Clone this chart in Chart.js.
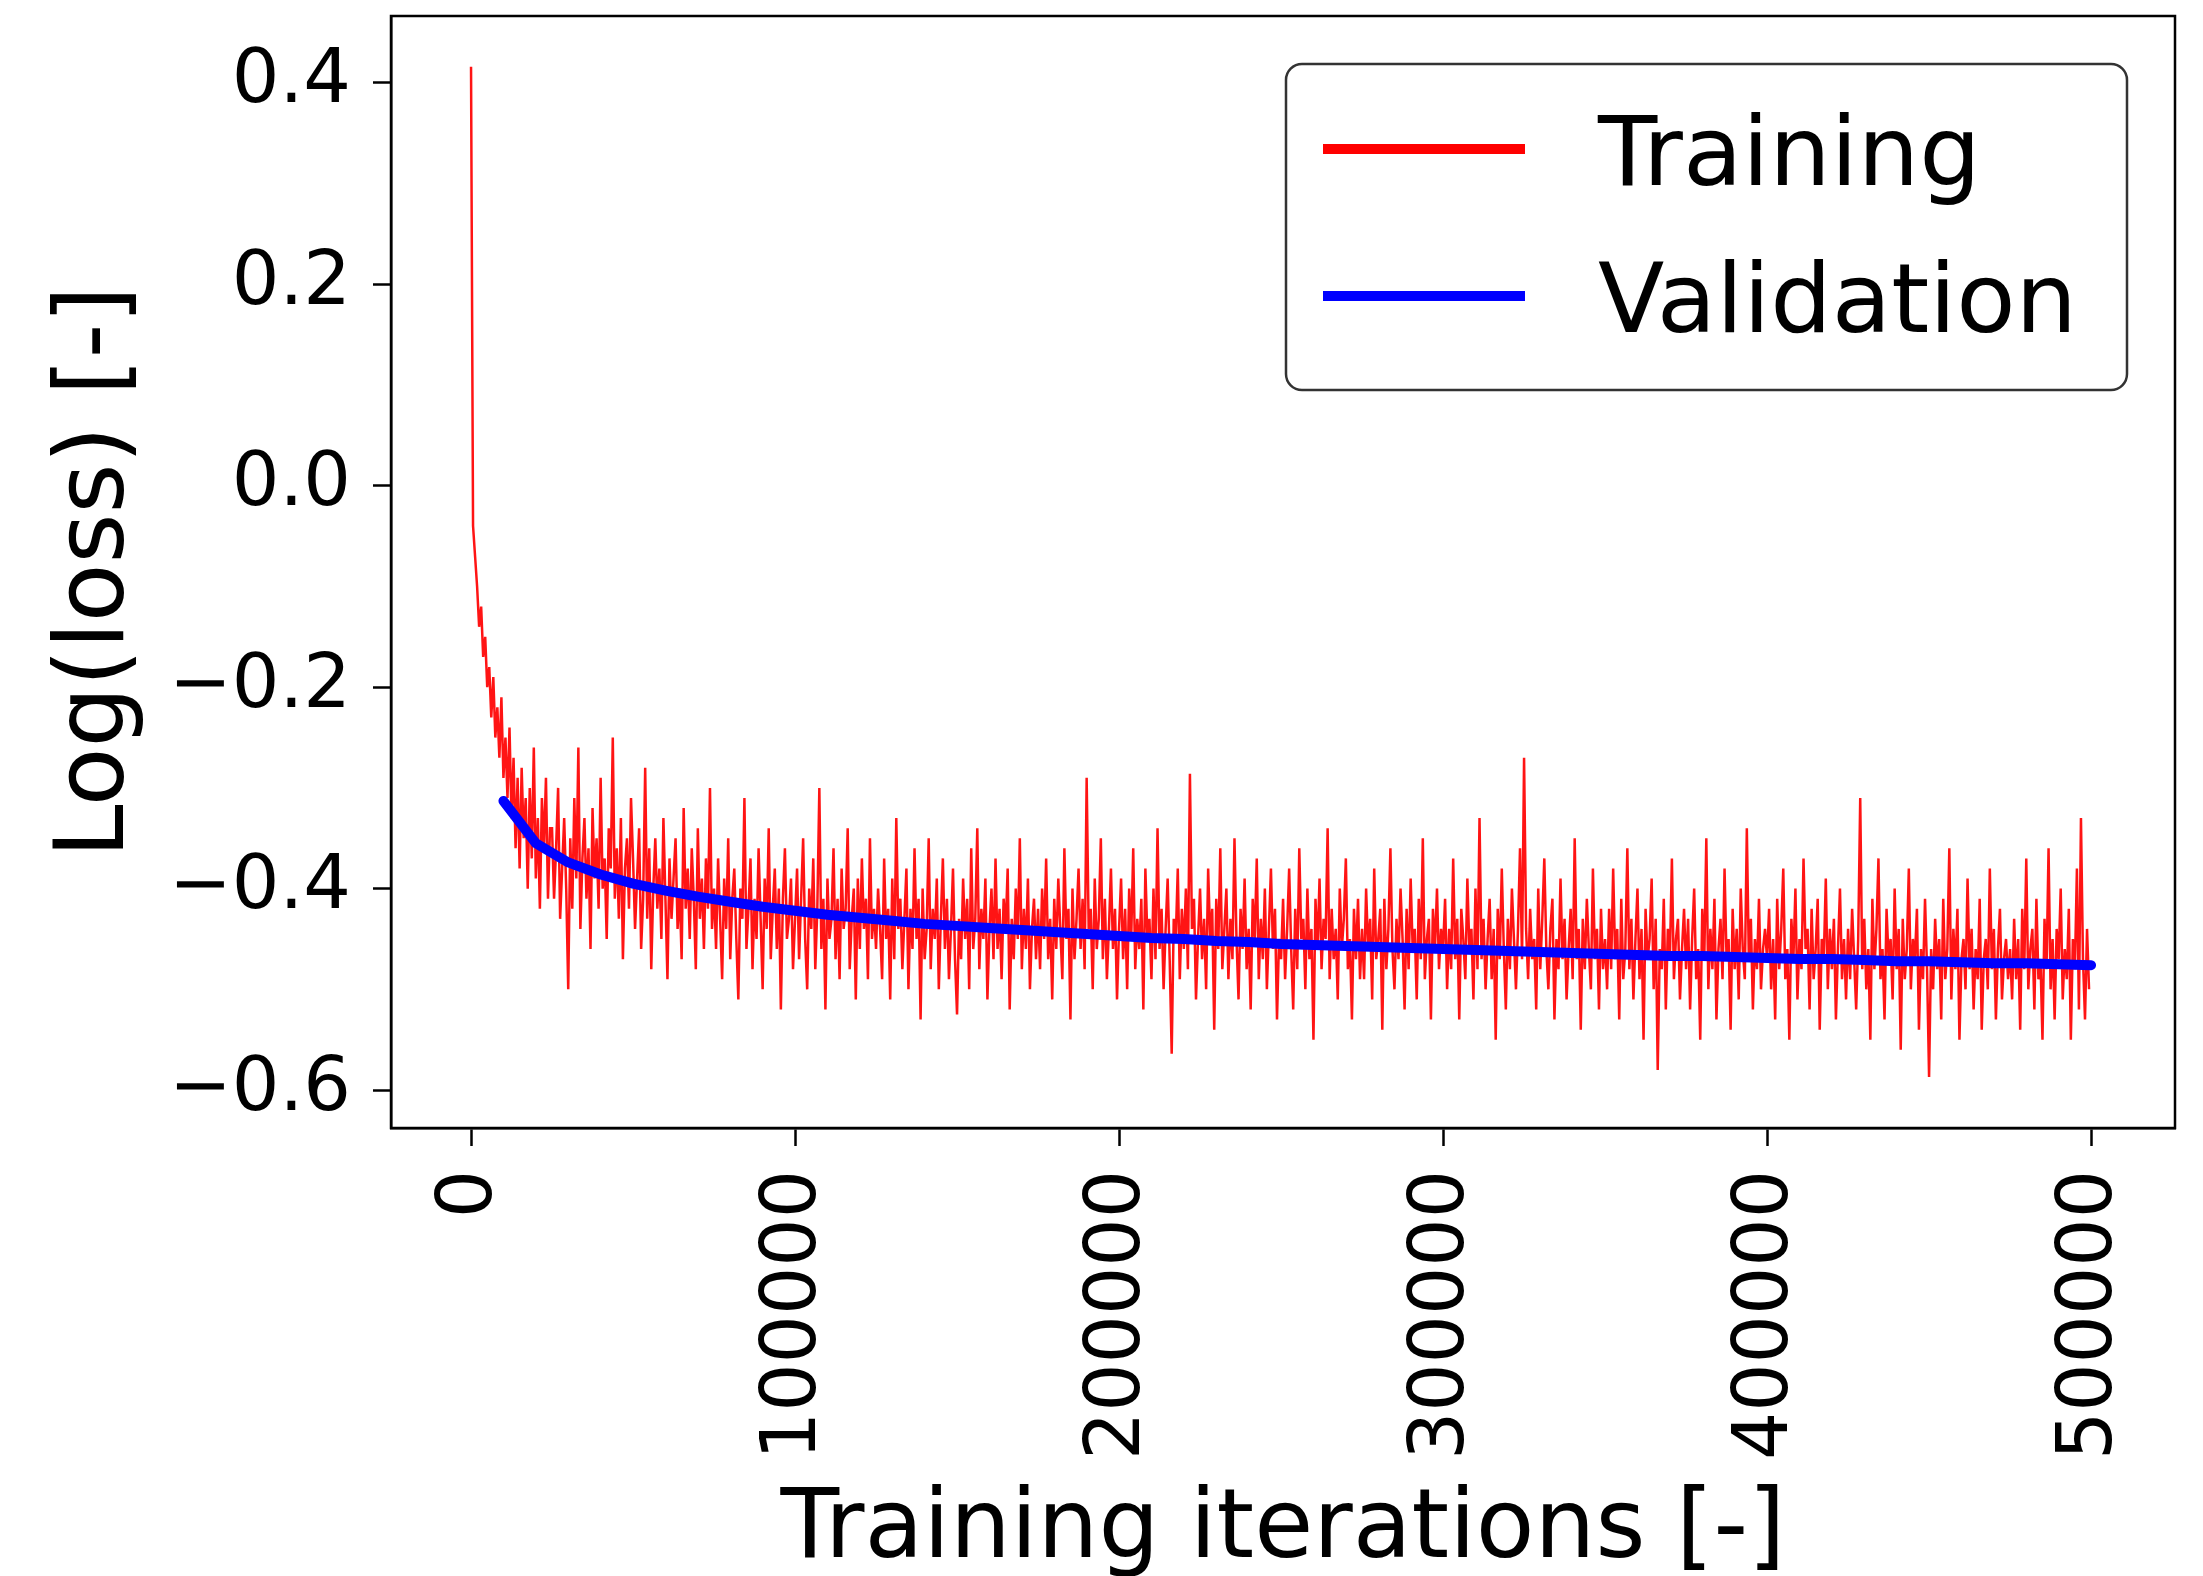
<!DOCTYPE html>
<html>
<head>
<meta charset="utf-8">
<title>Training loss</title>
<script src="https://cdn.jsdelivr.net/npm/chart.js@4.4.1/dist/chart.umd.min.js"></script>
<style>
    html, body { margin: 0; padding: 0; background: #fff; }
    #wrap { width: 2203px; height: 1576px; }
</style>
</head>
<body>
<div id="wrap"><canvas id="lossChart" width="2203" height="1576"></canvas></div>
<script>
// Training loss is logged every 625 iterations, one row per 25000 iterations
const trainStep = 625;
const trainLoss = [
    0.416,-.04,-.07,-.10,-.14,-.12,-.17,-.15,-.20,-.18,-.23,-.19,-.25,-.22,-.27,-.21,-.29,-.25,-.31,-.24,
    -.33,-.27,-.36,-.29,-.38,-.28,-.35,-.31,-.40,-.30,-.37,-.26,-.39,-.33,-.42,-.31,-.36,-.29,-.41,-.34,
    -.34,-.41,-.36,-.30,-.43,-.38,-.33,-.40,-.50,-.35,-.42,-.31,-.39,-.26,-.44,-.37,-.33,-.41,-.36,-.46,
    -.32,-.39,-.35,-.42,-.29,-.40,-.37,-.45,-.34,-.38,-.25,-.41,-.36,-.43,-.33,-.47,-.38,-.35,-.42,-.31,
    -.37,-.44,-.39,-.34,-.46,-.41,-.28,-.43,-.36,-.48,-.40,-.35,-.42,-.38,-.45,-.33,-.41,-.49,-.37,-.43,
    -.39,-.35,-.44,-.40,-.47,-.32,-.42,-.38,-.45,-.36,-.41,-.48,-.34,-.43,-.39,-.46,-.37,-.42,-.30,-.44,
    -.40,-.46,-.37,-.43,-.49,-.39,-.44,-.35,-.47,-.41,-.38,-.45,-.51,-.40,-.43,-.31,-.46,-.42,-.37,-.48,
    -.41,-.45,-.36,-.43,-.50,-.39,-.44,-.34,-.47,-.42,-.38,-.46,-.40,-.52,-.41,-.36,-.45,-.43,-.39,-.48,
    -.43,-.38,-.47,-.41,-.35,-.45,-.50,-.40,-.44,-.37,-.48,-.42,-.30,-.46,-.41,-.52,-.39,-.45,-.43,-.36,
    -.47,-.41,-.49,-.38,-.44,-.42,-.34,-.48,-.43,-.40,-.51,-.39,-.46,-.37,-.44,-.41,-.49,-.35,-.45,-.42,
    -.46,-.40,-.44,-.49,-.37,-.45,-.42,-.51,-.39,-.47,-.33,-.44,-.41,-.48,-.43,-.38,-.50,-.42,-.46,-.36,
    -.45,-.41,-.53,-.40,-.47,-.44,-.35,-.48,-.42,-.45,-.39,-.50,-.43,-.37,-.46,-.41,-.49,-.44,-.38,-.47,
    -.525,-.43,-.47,-.39,-.45,-.41,-.50,-.36,-.46,-.43,-.34,-.48,-.42,-.45,-.39,-.51,-.44,-.40,-.47,-.37,
    -.46,-.42,-.49,-.41,-.44,-.38,-.52,-.43,-.47,-.40,-.45,-.35,-.48,-.42,-.46,-.39,-.50,-.44,-.41,-.47,
    -.42,-.48,-.40,-.45,-.37,-.47,-.43,-.51,-.41,-.46,-.39,-.44,-.49,-.36,-.45,-.42,-.53,-.40,-.47,-.43,
    -.38,-.46,-.41,-.48,-.29,-.44,-.42,-.50,-.39,-.46,-.43,-.35,-.47,-.41,-.49,-.44,-.38,-.46,-.42,-.51,
    -.44,-.39,-.47,-.42,-.50,-.40,-.45,-.36,-.48,-.43,-.46,-.41,-.52,-.38,-.45,-.43,-.49,-.40,-.47,-.34,
    -.46,-.42,-.50,-.44,-.39,-.47,-.564,-.43,-.45,-.38,-.49,-.42,-.46,-.40,-.48,-.286,-.44,-.41,-.51,-.45,
    -.40,-.47,-.43,-.50,-.38,-.45,-.42,-.54,-.41,-.46,-.36,-.48,-.44,-.40,-.49,-.43,-.47,-.35,-.45,-.51,
    -.42,-.46,-.39,-.48,-.44,-.52,-.41,-.45,-.37,-.49,-.43,-.47,-.40,-.50,-.44,-.38,-.46,-.42,-.53,-.45,
    -.47,-.41,-.49,-.44,-.38,-.46,-.52,-.42,-.48,-.36,-.45,-.43,-.50,-.40,-.47,-.44,-.55,-.41,-.46,-.39,
    -.48,-.43,-.45,-.34,-.49,-.42,-.47,-.44,-.51,-.40,-.46,-.43,-.37,-.48,-.45,-.53,-.42,-.47,-.41,-.49,
    -.44,-.49,-.40,-.46,-.43,-.51,-.38,-.47,-.45,-.42,-.54,-.41,-.48,-.44,-.36,-.46,-.50,-.43,-.47,-.40,
    -.45,-.52,-.42,-.48,-.39,-.46,-.44,-.51,-.41,-.47,-.35,-.49,-.45,-.43,-.53,-.42,-.46,-.40,-.48,-.44,
    -.46,-.41,-.50,-.44,-.48,-.37,-.47,-.43,-.53,-.42,-.45,-.49,-.39,-.46,-.44,-.51,-.40,-.48,-.33,-.47,
    -.43,-.50,-.45,-.41,-.49,-.44,-.55,-.42,-.47,-.38,-.46,-.52,-.43,-.48,-.40,-.45,-.50,-.44,-.36,-.47,
    -.27,-.44,-.49,-.42,-.47,-.45,-.52,-.40,-.48,-.43,-.37,-.46,-.50,-.44,-.41,-.53,-.45,-.48,-.39,-.47,
    -.43,-.51,-.46,-.42,-.49,-.35,-.47,-.44,-.54,-.43,-.48,-.41,-.46,-.50,-.38,-.47,-.44,-.52,-.42,-.48,
    -.45,-.50,-.42,-.48,-.38,-.47,-.44,-.53,-.41,-.49,-.46,-.36,-.48,-.43,-.51,-.45,-.40,-.49,-.44,-.55,
    -.42,-.47,-.45,-.39,-.50,-.43,-.58,-.46,-.48,-.41,-.52,-.44,-.47,-.37,-.49,-.45,-.43,-.51,-.46,-.42,
    -.48,-.43,-.52,-.45,-.40,-.49,-.46,-.55,-.42,-.47,-.35,-.50,-.44,-.48,-.41,-.53,-.46,-.43,-.49,-.38,
    -.47,-.45,-.54,-.42,-.48,-.44,-.51,-.40,-.46,-.49,-.34,-.47,-.43,-.52,-.45,-.48,-.41,-.50,-.46,-.44,
    -.47,-.42,-.50,-.45,-.53,-.41,-.48,-.44,-.38,-.49,-.46,-.55,-.43,-.47,-.40,-.51,-.45,-.48,-.37,-.46,
    -.44,-.52,-.42,-.49,-.46,-.41,-.54,-.45,-.47,-.39,-.50,-.44,-.48,-.43,-.53,-.46,-.40,-.49,-.45,-.51,
    -.44,-.49,-.42,-.47,-.52,-.45,-.31,-.48,-.43,-.50,-.46,-.55,-.41,-.48,-.44,-.37,-.49,-.46,-.53,-.42,
    -.47,-.45,-.51,-.40,-.48,-.44,-.56,-.43,-.49,-.46,-.38,-.50,-.45,-.47,-.42,-.54,-.46,-.49,-.41,-.48,
    -.587,-.46,-.50,-.43,-.48,-.45,-.53,-.41,-.49,-.46,-.36,-.51,-.44,-.48,-.42,-.55,-.47,-.45,-.50,-.39,
    -.48,-.44,-.52,-.46,-.49,-.41,-.54,-.47,-.45,-.50,-.38,-.48,-.44,-.53,-.46,-.42,-.51,-.47,-.45,-.49,
    -.46,-.51,-.43,-.49,-.45,-.54,-.42,-.48,-.37,-.50,-.46,-.44,-.52,-.41,-.49,-.47,-.55,-.43,-.48,-.36,
    -.50,-.45,-.53,-.44,-.47,-.40,-.51,-.46,-.49,-.42,-.55,-.45,-.48,-.38,-.52,-.33,-.47,-.53,-.44,-.50
];

// Validation runs every 10000 iterations
const valIters = [
    10000, 20000, 30000, 40000, 50000, 60000, 70000, 80000, 90000, 100000,
    110000, 120000, 130000, 140000, 150000, 160000, 170000, 180000, 190000, 200000,
    210000, 220000, 230000, 240000, 250000, 260000, 270000, 280000, 290000, 300000,
    310000, 320000, 330000, 340000, 350000, 360000, 370000, 380000, 390000, 400000,
    410000, 420000, 430000, 440000, 450000, 460000, 470000, 480000, 490000, 500000
];
const valLoss = [
    -0.313, -0.355, -0.374, -0.386, -0.395, -0.402, -0.408, -0.413, -0.418, -0.422,
    -0.426, -0.429, -0.432, -0.435, -0.437, -0.439, -0.441, -0.443, -0.445, -0.447,
    -0.449, -0.450, -0.452, -0.453, -0.455, -0.456, -0.457, -0.458, -0.459, -0.460,
    -0.461, -0.462, -0.463, -0.464, -0.465, -0.466, -0.467, -0.467, -0.468, -0.469,
    -0.470, -0.470, -0.471, -0.472, -0.472, -0.473, -0.474, -0.474, -0.475, -0.476
];

const xTickValues = [0, 100000, 200000, 300000, 400000, 500000];
const xTickLabels = ['0', '100000', '200000', '300000', '400000', '500000'];
const yTickValues = [-0.6, -0.4, -0.2, 0.0, 0.2, 0.4];
const yTickLabels = ['\u22120.6', '\u22120.4', '\u22120.2', '0.0', '0.2', '0.4'];

const seriesNames = ['Training', 'Validation'];
const seriesColors = ['#ff0000', '#0000ff'];

const FONT = "'DejaVu Sans', 'Liberation Sans', sans-serif";

// axes frame, axis titles and the boxed legend
const decorPlugin = {
    id: 'decor',
    afterDraw(chart) {
        const ctx = chart.ctx;
        const a = chart.chartArea;
        ctx.save();

        ctx.strokeStyle = '#000';
        ctx.lineWidth = 2.5;
        ctx.strokeRect(a.left, a.top, a.right - a.left, a.bottom - a.top);

        ctx.fillStyle = '#000';
        ctx.font = '96px ' + FONT;
        ctx.textAlign = 'center';
        ctx.textBaseline = 'alphabetic';
        ctx.fillText('Training iterations [-]', (a.left + a.right) / 2, 1557);

        ctx.save();
        ctx.translate(123, (a.top + a.bottom) / 2);
        ctx.rotate(-Math.PI / 2);
        ctx.fillText('Log(loss) [-]', 0, 0);
        ctx.restore();

        // legend
        const box = { left: 1286, top: 64, right: 2127, bottom: 390, r: 16 };
        ctx.beginPath();
        ctx.roundRect(box.left, box.top, box.right - box.left, box.bottom - box.top, box.r);
        ctx.fillStyle = 'rgba(255,255,255,0.9)';
        ctx.fill();
        ctx.strokeStyle = '#333';
        ctx.lineWidth = 2.5;
        ctx.stroke();

        const rows = [149, 296];
        chart.data.datasets.forEach((ds, i) => {
            const y = rows[i];
            ctx.strokeStyle = seriesColors[i];
            ctx.lineWidth = 10;
            ctx.lineCap = 'butt';
            ctx.beginPath();
            ctx.moveTo(1323, y);
            ctx.lineTo(1525, y);
            ctx.stroke();
            ctx.fillStyle = '#000';
            ctx.font = '97px ' + FONT;
            ctx.textAlign = 'left';
            ctx.fillText(ds.label, 1598, y + 36);
        });
        ctx.restore();
    }
};

const trainPoints = trainLoss.map((v, i) => ({ x: i * trainStep, y: v }));
const valPoints = valIters.map((it, i) => ({ x: it, y: valLoss[i] }));

function noEdgePadding(scale) {
    scale.paddingTop = 0;
    scale.paddingBottom = 0;
    scale.paddingLeft = 0;
    scale.paddingRight = 0;
}

new Chart(document.getElementById('lossChart'), {
    type: 'line',
    data: {
        datasets: [
            {
                label: seriesNames[0],
                data: trainPoints,
                borderColor: 'rgba(255,0,0,0.92)',
                borderWidth: 2.5,
                pointRadius: 0,
                tension: 0,
                order: 2
            },
            {
                label: seriesNames[1],
                data: valPoints,
                borderColor: seriesColors[1],
                borderWidth: 10,
                pointRadius: 0,
                tension: 0,
                borderJoinStyle: 'round',
                borderCapStyle: 'round',
                order: 1
            }
        ]
    },
    options: {
        responsive: false,
        animation: false,
        devicePixelRatio: 1,
        layout: { padding: { left: 0, top: 16, right: 28, bottom: 0 } },
        plugins: {
            legend: { display: false },
            tooltip: { enabled: false }
        },
        scales: {
            x: {
                type: 'linear',
                min: -24700,
                max: 525900,
                afterBuildTicks: function(scale) {
                    scale.ticks = xTickValues.map(v => ({ value: v }));
                },
                afterFit: function(scale) {
                    scale.height = 448;
                    noEdgePadding(scale);
                },
                ticks: {
                    minRotation: 90,
                    maxRotation: 90,
                    padding: 24,
                    color: '#000',
                    font: { family: FONT, size: 76 },
                    callback: function(value) {
                        return xTickLabels[xTickValues.indexOf(value)];
                    }
                },
                grid: {
                    drawOnChartArea: false,
                    drawTicks: true,
                    tickLength: 18,
                    tickWidth: 2.5,
                    tickColor: '#000'
                },
                border: { display: true, color: '#000', width: 2.5 }
            },
            y: {
                type: 'linear',
                min: -0.6377,
                max: 0.4665,
                afterBuildTicks: function(scale) {
                    scale.ticks = yTickValues.map(v => ({ value: v }));
                },
                afterFit: function(scale) {
                    scale.width = 391;
                    noEdgePadding(scale);
                },
                ticks: {
                    padding: 22,
                    color: '#000',
                    font: { family: FONT, size: 75 },
                    callback: function(value) {
                        const i = yTickValues.findIndex(t => Math.abs(t - value) < 1e-9);
                        return yTickLabels[i];
                    }
                },
                grid: {
                    drawOnChartArea: false,
                    drawTicks: true,
                    tickLength: 18,
                    tickWidth: 2.5,
                    tickColor: '#000'
                },
                border: { display: true, color: '#000', width: 2.5 }
            }
        }
    },
    plugins: [decorPlugin]
});
</script>
</body>
</html>
